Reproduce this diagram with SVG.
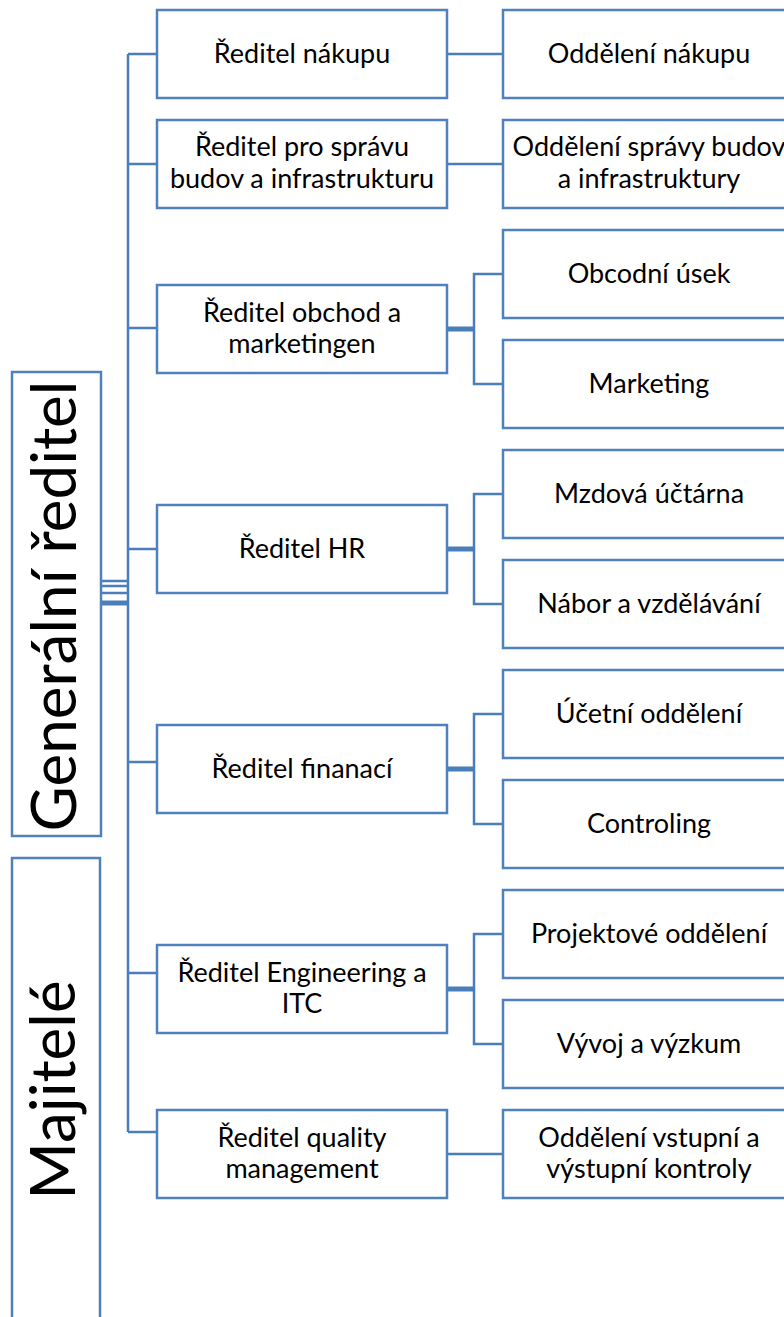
<svg xmlns="http://www.w3.org/2000/svg" width="784" height="1317" viewBox="0 0 784 1317">
<style>
.box{fill:#fff;stroke:#4F81BD;stroke-width:2.5}
.ln{fill:none;stroke:#4A7EBB;stroke-width:2.5}
.dl{fill:none;stroke:#4A7EBB;stroke-width:5}
.t{font-family:Lato,"Liberation Sans",sans-serif;font-size:27px;fill:#000;text-anchor:middle}
.big{font-family:Lato,"Liberation Sans",sans-serif;font-size:62px;fill:#000;text-anchor:middle}
</style>
<rect width="784" height="1317" fill="#fff"/>
<g id="connectors">
<path class="ln" d="M128,54V1132M128,54H157M128,164H157M128,328H157M128,549H157M128,762H157M128,973H157M128,1132H157"/>
<path class="ln" d="M101,581H128M101,586H128M101,593H128"/>
<path class="dl" d="M101,603H128"/>
<path class="ln" d="M447,54H503M447,164H503M447,1154H503"/>
<path class="dl" d="M447,329H474M447,549H474M447,769H474M447,989H474"/>
<path class="ln" d="M503,274H474V384H503M503,494H474V604H503M503,714H474V824H503M503,934H474V1044H503"/>
</g>
<g id="gen"><rect class="box" x="12" y="372" width="89" height="464"/><text class="big" transform="translate(76,606) rotate(-90)">Generální ředitel</text></g>
<g id="maj"><rect class="box" x="12" y="858" width="88" height="470"/><text class="big" transform="translate(75,1090) rotate(-90)">Majitelé</text></g>
<g id="r1"><rect class="box" x="157" y="10" width="290" height="88"/><text class="t" x="302" y="63">Ředitel nákupu</text></g>
<g id="r2"><rect class="box" x="157" y="120" width="290" height="88"/><text class="t" x="302" y="156">Ředitel pro správu</text><text class="t" x="302" y="188">budov a infrastrukturu</text></g>
<g id="r3"><rect class="box" x="157" y="285" width="290" height="88"/><text class="t" x="302" y="322">Ředitel obchod a</text><text class="t" x="302" y="353">marketingen</text></g>
<g id="r4"><rect class="box" x="157" y="505" width="290" height="88"/><text class="t" x="302" y="558">Ředitel HR</text></g>
<g id="r5"><rect class="box" x="157" y="725" width="290" height="88"/><text class="t" x="302" y="778">Ředitel finanací</text></g>
<g id="r6"><rect class="box" x="157" y="945" width="290" height="88"/><text class="t" x="302" y="982">Ředitel Engineering a</text><text class="t" x="302" y="1013">ITC</text></g>
<g id="r7"><rect class="box" x="157" y="1110" width="290" height="88"/><text class="t" x="302" y="1147">Ředitel quality</text><text class="t" x="302" y="1178">management</text></g>
<g id="d1"><rect class="box" x="503" y="10" width="300" height="88"/><text class="t" x="649" y="63">Oddělení nákupu</text></g>
<g id="d2"><rect class="box" x="503" y="120" width="300" height="88"/><text class="t" x="649" y="156">Oddělení správy budov</text><text class="t" x="649" y="188">a infrastruktury</text></g>
<g id="d3"><rect class="box" x="503" y="230" width="300" height="88"/><text class="t" x="649" y="283">Obcodní úsek</text></g>
<g id="d4"><rect class="box" x="503" y="340" width="300" height="88"/><text class="t" x="649" y="393">Marketing</text></g>
<g id="d5"><rect class="box" x="503" y="450" width="300" height="88"/><text class="t" x="649" y="503">Mzdová účtárna</text></g>
<g id="d6"><rect class="box" x="503" y="560" width="300" height="88"/><text class="t" x="649" y="613">Nábor a vzdělávání</text></g>
<g id="d7"><rect class="box" x="503" y="670" width="300" height="88"/><text class="t" x="649" y="723">Účetní oddělení</text></g>
<g id="d8"><rect class="box" x="503" y="780" width="300" height="88"/><text class="t" x="649" y="833">Controling</text></g>
<g id="d9"><rect class="box" x="503" y="890" width="300" height="88"/><text class="t" x="649" y="943">Projektové oddělení</text></g>
<g id="d10"><rect class="box" x="503" y="1000" width="300" height="88"/><text class="t" x="649" y="1053">Vývoj a výzkum</text></g>
<g id="d11"><rect class="box" x="503" y="1110" width="300" height="88"/><text class="t" x="649" y="1147">Oddělení vstupní a</text><text class="t" x="649" y="1178">výstupní kontroly</text></g>
</svg>
